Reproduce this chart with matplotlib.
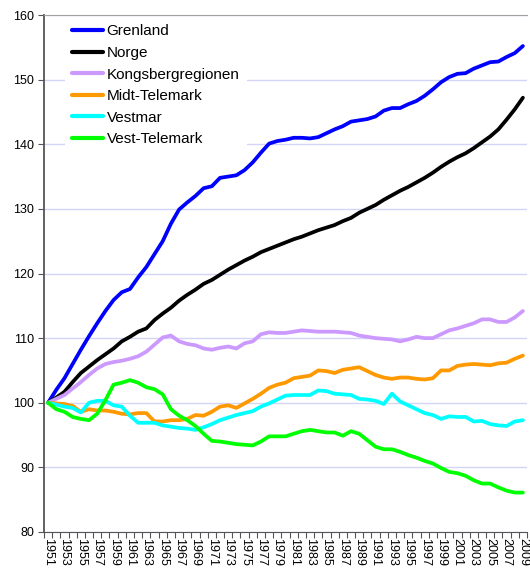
import matplotlib

matplotlib.use("Agg")
import matplotlib.pyplot as plt
import numpy as np

plt.rcParams["font.family"] = ["Liberation Sans", "DejaVu Sans"]

years = list(range(1951, 2010))

grenland = [
    100.0, 102.0, 103.8, 106.0, 108.2, 110.3, 112.3, 114.2, 115.9, 117.1,
    117.6, 119.4, 121.0, 123.0, 125.0, 127.7, 129.9, 131.0, 132.0, 133.2,
    133.5, 134.8, 135.0, 135.2, 136.0, 137.2, 138.7, 140.1, 140.5, 140.7,
    141.0, 141.0, 140.9, 141.1, 141.7, 142.3, 142.8, 143.5, 143.7, 143.9,
    144.3, 145.2, 145.6, 145.6, 146.2, 146.7, 147.5, 148.5, 149.6, 150.4,
    150.9, 151.0, 151.7, 152.2, 152.7, 152.8, 153.5, 154.1, 155.2,
]
norge = [
    100.0, 100.8, 101.7, 103.2, 104.6, 105.6, 106.6, 107.5, 108.4, 109.5,
    110.2, 111.0, 111.5, 112.8, 113.8, 114.7, 115.8, 116.7, 117.5, 118.4,
    119.0, 119.8, 120.6, 121.3, 122.0, 122.6, 123.3, 123.8, 124.3, 124.8,
    125.3, 125.7, 126.2, 126.7, 127.1, 127.5, 128.1, 128.6, 129.4, 130.0,
    130.6, 131.4, 132.1, 132.8, 133.4, 134.1, 134.8, 135.6, 136.5, 137.3,
    138.0, 138.6, 139.4, 140.3, 141.2, 142.3, 143.8, 145.4, 147.2,
]
kongsberg = [
    100.0, 100.6, 101.2, 102.2, 103.2, 104.3, 105.3, 106.0, 106.3, 106.5,
    106.8, 107.2, 107.9, 109.0, 110.1, 110.4, 109.5, 109.1, 108.9, 108.4,
    108.2, 108.5, 108.7, 108.4, 109.2, 109.5, 110.6, 110.9, 110.8, 110.8,
    111.0, 111.2, 111.1, 111.0, 111.0, 111.0, 110.9, 110.8, 110.4, 110.2,
    110.0, 109.9, 109.8, 109.5, 109.8, 110.2, 110.0, 110.0, 110.6, 111.2,
    111.5, 111.9, 112.3, 112.9, 112.9, 112.5, 112.5, 113.2, 114.2,
]
midt_telemark = [
    100.0, 99.9, 99.8, 99.5, 98.6, 99.0, 98.8, 98.8, 98.6, 98.3,
    98.2, 98.4, 98.4, 97.1, 97.1, 97.3, 97.3, 97.5, 98.1, 98.0,
    98.6, 99.4, 99.6, 99.2, 99.9, 100.6, 101.4, 102.3, 102.8, 103.1,
    103.8, 104.0, 104.2, 105.0, 104.9, 104.6, 105.1, 105.3, 105.5, 104.9,
    104.3, 103.9, 103.7, 103.9, 103.9, 103.7, 103.6, 103.8, 105.0, 105.0,
    105.7, 105.9, 106.0, 105.9, 105.8, 106.1, 106.2, 106.8, 107.3,
]
vestmar = [
    100.0, 99.7, 99.4, 99.2, 98.5, 100.0, 100.3, 100.3, 99.6, 99.4,
    98.0, 96.9, 96.9, 96.9, 96.5, 96.3, 96.1, 96.0, 95.8, 96.2,
    96.7, 97.3, 97.7, 98.1, 98.4, 98.7, 99.4, 99.9, 100.5, 101.1,
    101.2, 101.2, 101.2, 101.9, 101.8, 101.4, 101.3, 101.2, 100.6, 100.5,
    100.3, 99.8, 101.4, 100.2, 99.6, 99.0, 98.4, 98.1, 97.5, 97.9,
    97.8, 97.8, 97.1, 97.2, 96.7, 96.5, 96.4, 97.1, 97.3,
]
vest_telemark = [
    100.0, 99.0, 98.6, 97.8, 97.5, 97.3, 98.3, 100.4, 102.8, 103.1,
    103.5, 103.1, 102.4, 102.1, 101.3, 99.0, 98.0, 97.3, 96.4, 95.2,
    94.1, 94.0, 93.8, 93.6, 93.5, 93.4, 94.0, 94.8, 94.8, 94.8,
    95.2, 95.6, 95.8, 95.6, 95.4, 95.4, 94.9, 95.6, 95.2, 94.2,
    93.2, 92.8, 92.8, 92.4, 91.9, 91.5, 91.0, 90.6, 89.9, 89.3,
    89.1, 88.7, 88.0, 87.5, 87.5, 86.9, 86.4, 86.1, 86.1,
]

series = [
    ("Grenland", grenland, "#0000ff"),
    ("Norge", norge, "#000000"),
    ("Kongsbergregionen", kongsberg, "#cc99ff"),
    ("Midt-Telemark", midt_telemark, "#ff9900"),
    ("Vestmar", vestmar, "#00ffff"),
    ("Vest-Telemark", vest_telemark, "#00ff00"),
]

fig = plt.figure(figsize=(5.3, 5.72), dpi=100)
ax = fig.add_axes([44 / 530, 1 - 532 / 572, 483 / 530, 517 / 572])

for name, values, color in series:
    ax.plot(years, values, color=color, lw=2.7, label=name, solid_capstyle="round", zorder=3)

ax.set_xlim(1950.5, 2009.5)
ax.set_ylim(80, 160)
ax.set_yticks(np.arange(80, 161, 10))
ax.yaxis.grid(True, color="#d4d4f8", lw=1.0)
ax.set_axisbelow(True)

# category axis: tick marks between years, labels on every second year
ax.set_xticks(np.arange(1950.5, 2010, 1), labels=[])
ax.set_xticks(years[::2], labels=[str(y) for y in years[::2]], minor=True)
ax.tick_params(axis="x", which="major", length=4, color="#555555", direction="out")
ax.tick_params(axis="x", which="minor", length=0, labelsize=9, labelrotation=-90, pad=4)
ax.tick_params(axis="y", length=4, color="#555555", labelsize=9, pad=3)

ax.spines["right"].set_visible(False)
ax.spines["top"].set_color("#a0a0a0")
ax.spines["left"].set_color("#555555")
ax.spines["bottom"].set_color("#555555")
ax.spines["left"].set_linewidth(1.3)

leg = ax.legend(
    loc="upper left",
    bbox_to_anchor=(57 / 530, 1 - 9 / 572),
    bbox_transform=fig.transFigure,
    fontsize=11,
    frameon=True,
    fancybox=False,
    facecolor="white",
    edgecolor="none",
    framealpha=1.0,
    borderpad=0.5,
    handlelength=2.0,
    handletextpad=0.25,
    labelspacing=0.5,
)
leg.set_zorder(1)
for line in leg.get_lines():
    line.set_linewidth(3.0)

fig.savefig("out.png", dpi=100)
